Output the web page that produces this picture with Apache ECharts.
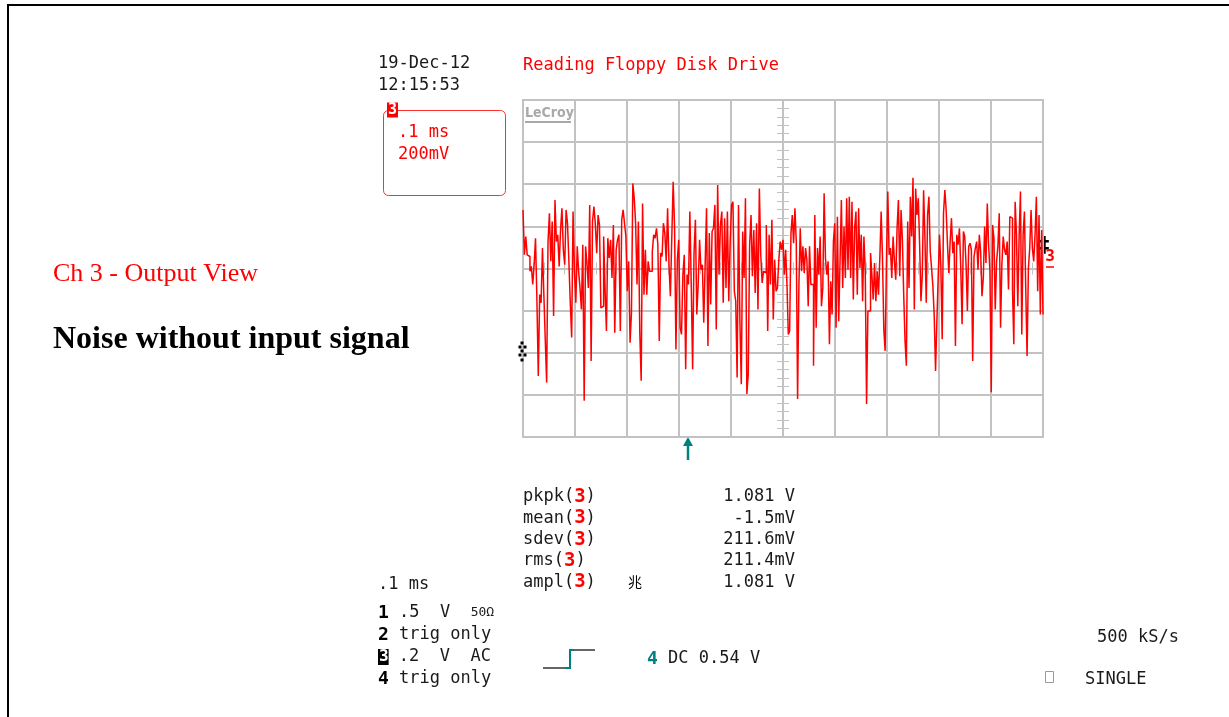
<!DOCTYPE html>
<html>
<head>
<meta charset="utf-8">
<script src="https://cdn.jsdelivr.net/npm/echarts@6/dist/echarts.min.js"></script>
<style>
html, body { margin: 0; padding: 0; background: #fff; }
#chart { position: absolute; left: 0; top: 0; width: 1229px; height: 717px; }
#frame { position: absolute; left: 7px; top: 4px; right: 0; bottom: 0; border-top: 2px solid #000; border-left: 2px solid #000; pointer-events: none; }
</style>
</head>
<body>
<div id="chart"></div>
<div id="frame"></div>
<script>
// channel 3 samples, mV relative to ch3 ground
var ch3FirstHalfMv = [208,-5,82,-5,-13,-83,-60,-146,-52,74,-217,-580,-194,-233,27,-194,-406,-611,58,192,-36,153,-296,255,58,90,-60,113,216,19,-52,208,145,-36,-233,-398,200,-83,-233,35,-83,-162,-265,43,-698,35,-44,-162,232,-509,153,224,145,3,184,137,-257,-249,82,-162,-367,74,-20,66,-115,137,-375,19,66,90,-367,161,208,145,82,-178,-36,-422,-280,334,263,145,-146,153,-375,-603,239,-194,19,-194,-36,-83,-83,11,90,74,121,43,-414,3,-13,145,98,-36,216,-52,-202,74,342,129,-454,-28,66,-351,-383,-99,-5,-548,-99,-146,200,-146,-548,3,161,-288,-146,66,-76,-52,-328,-52,216,-438,98,-241,106,121,232,-359,326,-99,137,200,-233,169,-162,200,-225,58,232,247,-178,-225,-587,232,-320,-619,106,-115,263,-666,-572,43,184,-107,113,-186,145,-265,310,-5,-139,-83,-91,137,-367,90,-146,161,-312,-28,-178,-162,-28,58,19];
var ch3SecondHalfMv = [66,-99,19,-146,-383,-367,98,184,50,216,58,-690,-146,121,-83,35,-91,27,-28,-249,35,-146,-146,-532,184,-351,27,-99,82,-249,-162,287,-20,-99,-36,-430,-131,-288,58,145,-351,176,-320,-36,255,-162,129,-115,263,-76,271,-115,247,-217,121,200,-194,216,-68,90,-225,82,-83,-713,-272,-272,3,-99,-217,-44,-225,-83,-194,-20,200,-20,-359,-461,-36,295,-5,27,-115,82,-36,-123,121,255,-107,208,66,-194,-414,-532,153,-162,271,82,361,-265,310,184,263,43,-225,-99,302,74,-233,184,271,11,-68,-154,-296,-556,-320,-107,90,-60,-406,192,302,208,43,-91,58,169,3,58,-438,90,43,121,-68,-335,106,82,-52,-272,35,50,19,-509,-13,27,58,-76,90,11,-202,-115,129,-44,239,43,-83,-658,137,74,-265,-36,35,192,-351,-52,82,19,-5,58,-170,176,169,-170,-430,247,90,-249,82,295,-383,90,200,-170,-485,-68,27,208,27,-36,90,271,-178,184,-288,113,-288];

var measureNames = ['pkpk', 'mean', 'sdev', 'rms', 'ampl'];
var measureValues = ['1.081 V', '-1.5mV', '211.6mV', '211.4mV', '1.081 V'];

var timePerDiv = 0.1;   // ms
var voltsPerDiv = 0.2;  // V
var ch3Offset = 0.07;   // V, ch3 ground above screen centre

var trace = [];
ch3FirstHalfMv.forEach(function (v, i) {
    trace.push([-0.5 + 0.5 * i / ch3FirstHalfMv.length, v / 1000 + ch3Offset]);
});
ch3SecondHalfMv.forEach(function (v, i) {
    trace.push([0.5 * i / (ch3SecondHalfMv.length - 1), v / 1000 + ch3Offset]);
});

var gridGray = '#c2c2c2';
var mono = 'DejaVu Sans Mono';
var teal = '#008080';
var ink = '#1a1a1a';

function txt(x, y, s, extra) {
    var st = { text: s, x: x, y: y + 2, font: '17px "' + mono + '"', fill: ink, textVerticalAlign: 'middle' };
    for (var k in extra) st[k] = extra[k];
    return { type: 'text', silent: true, style: st };
}

var centerTick = { show: true, length: 6, lineStyle: { color: gridGray, width: 1 } };
var centerMinor = { show: true, splitNumber: 5, length: 6, lineStyle: { color: gridGray, width: 1 } };

function xAx(pos, split) {
    return {
        type: 'value', min: -5 * timePerDiv, max: 5 * timePerDiv, interval: timePerDiv, position: pos,
        axisLine: { show: true, onZero: true, lineStyle: { color: gridGray, width: 1.5 } },
        axisTick: centerTick, minorTick: centerMinor,
        axisLabel: { show: false },
        splitLine: { show: split, lineStyle: { color: gridGray, width: 2 } }
    };
}
function yAx(pos, split) {
    return {
        type: 'value', min: -4 * voltsPerDiv, max: 4 * voltsPerDiv, interval: voltsPerDiv, position: pos,
        axisLine: { show: true, onZero: true, lineStyle: { color: gridGray, width: 1.5 } },
        axisTick: centerTick, minorTick: centerMinor,
        axisLabel: { show: false },
        splitLine: { show: split, lineStyle: { color: gridGray, width: 2 } }
    };
}

var graphics = [
    txt(378, 62, '19-Dec-12'),
    txt(378, 84, '12:15:53'),
    txt(523, 64, 'Reading Floppy Disk Drive', { fill: '#ff0000' }),
    { type: 'rect', silent: true, shape: { x: 383.5, y: 110.5, width: 122, height: 85, r: 5 }, style: { fill: null, stroke: '#ff3030', lineWidth: 1 } },
    txt(387, 108, '3', { font: 'bold 15px "' + mono + '"', fill: '#fff', backgroundColor: '#ff0000', padding: [0, 1, 0, 1] }),
    txt(398, 131, '.1 ms', { fill: '#ff0000' }),
    txt(398, 153, '200mV', { fill: '#ff0000' }),
    txt(525, 111, 'LeCroy', { font: 'bold 14px "DejaVu Sans Condensed"', fill: '#a9a9a9' }),
    { type: 'line', silent: true, shape: { x1: 525, y1: 122, x2: 571, y2: 122 }, style: { stroke: '#a9a9a9', lineWidth: 2 } },
    txt(53, 272, 'Ch 3 - Output View', { font: '26px "Liberation Serif"', fill: '#ff0000' }),
    txt(53, 338, 'Noise without input signal', { font: 'bold 32px "Liberation Serif"', fill: '#000' }),
    // trigger position arrow
    { type: 'polygon', silent: true, shape: { points: [[683, 446], [693, 446], [688, 437]] }, style: { fill: teal } },
    { type: 'line', silent: true, shape: { x1: 688, y1: 444, x2: 688, y2: 460 }, style: { stroke: teal, lineWidth: 2.5 } },
    // right edge markers
    txt(1044, 244, '‡', { font: 'bold 22px "DejaVu Sans"', fill: '#000', textAlign: 'center' }),
    txt(1050, 255, '3', { font: 'bold 16px "' + mono + '"', fill: '#ff0000', textAlign: 'center' }),
    { type: 'line', silent: true, shape: { x1: 1046, y1: 267, x2: 1054, y2: 267 }, style: { stroke: '#ff0000', lineWidth: 1.5 } },
    txt(378, 583, '.1 ms'),
    txt(378, 611, '{b|1} .5  V  {s|50Ω}', { rich: { b: { font: 'bold 18px "' + mono + '"', fill: '#000' }, s: { font: '13px "' + mono + '"', fill: ink } } }),
    txt(378, 633, '{b|2} trig only', { rich: { b: { font: 'bold 18px "' + mono + '"', fill: '#000' } } }),
    txt(378, 655, '{k|3} .2  V  AC', { rich: { k: { font: 'bold 16px "' + mono + '"', fill: '#fff', backgroundColor: '#000', padding: [0, 0, 0, 1] } } }),
    txt(378, 677, '{b|4} trig only', { rich: { b: { font: 'bold 18px "' + mono + '"', fill: '#000' } } }),
    // trigger slope symbol
    { type: 'polyline', silent: true, shape: { points: [[543, 668], [565, 668]] }, style: { stroke: '#333', lineWidth: 1.5 } },
    { type: 'polyline', silent: true, shape: { points: [[565, 668], [570, 668], [570, 650], [574, 650]] }, style: { stroke: teal, lineWidth: 2 } },
    { type: 'polyline', silent: true, shape: { points: [[574, 650], [595, 650]] }, style: { stroke: '#333', lineWidth: 1.5 } },
    txt(647, 657, '4', { font: 'bold 18px "' + mono + '"', fill: teal }),
    txt(668, 657, 'DC 0.54 V'),
    txt(1097, 636, '500 kS/s'),
    { type: 'rect', silent: true, shape: { x: 1045.5, y: 671.5, width: 8, height: 11 }, style: { fill: null, stroke: '#999', lineWidth: 1 } },
    txt(1085, 678, 'SINGLE')
];

// trigger level marker on the left edge
[[522, 343], [520, 347], [525, 347], [522, 351], [520, 355], [525, 355], [522, 360]].forEach(function (p) {
    graphics.push({ type: 'rect', silent: true, z: 10, shape: { x: p[0] - 1.5, y: p[1] - 1.5, width: 3, height: 3 }, style: { fill: '#000' } });
});

measureNames.forEach(function (name, i) {
    var y = 495 + i * 21.3;
    graphics.push(txt(523, y, name + '({r|3})', { rich: { r: { font: 'bold 19px "' + mono + '"', fill: '#ff0000' } } }));
    graphics.push(txt(795, y, measureValues[i], { textAlign: 'right' }));
});
graphics.push(txt(628, 580, '兆', { font: '14px "Noto Sans CJK SC"', fill: '#000' }));

var chart = echarts.init(document.getElementById('chart'));
chart.setOption({
    animation: false,
    backgroundColor: '#fff',
    grid: { left: 523, top: 100, width: 520, height: 337, show: true, borderColor: gridGray, borderWidth: 2 },
    xAxis: [xAx('bottom', true), xAx('top', false)],
    yAxis: [yAx('left', true), yAx('right', false)],
    series: [{
        type: 'line',
        xAxisIndex: 0,
        yAxisIndex: 0,
        data: trace,
        step: 'end',
        symbol: 'none',
        silent: true,
        lineStyle: { color: '#ff0000', width: 1.5 },
        z: 5
    }],
    graphic: graphics
});
</script>
</body>
</html>
